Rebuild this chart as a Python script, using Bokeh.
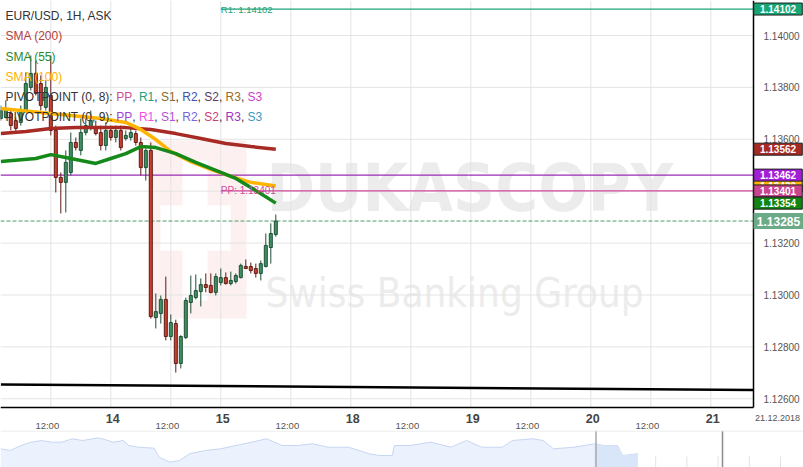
import numpy as np
from bokeh.plotting import figure
from bokeh.models import ColumnDataSource, Label, FixedTicker, Range1d
from bokeh.layouts import column
from bokeh.embed import file_html
from bokeh.resources import INLINE
from bokeh.core.properties import value

# ---------------- data ----------------
hours = list(range(56))
opens = [1.13680, 1.13684, 1.13699, 1.13672, 1.13665, 1.13711, 1.13800, 1.13854, 1.13815, 1.13723,
         1.13769, 1.13634, 1.13453, 1.13434, 1.13472, 1.13588, 1.13557, 1.13626, 1.13642, 1.13642,
         1.13626, 1.13576, 1.13634, 1.13607, 1.13634, 1.13603, 1.13607, 1.13622, 1.13588, 1.13491,
         1.13557, 1.12913, 1.12929, 1.12983, 1.12840, 1.12890, 1.12736, 1.12836, 1.12971, 1.12990,
         1.13013, 1.13040, 1.13037, 1.13010, 1.13048, 1.13067, 1.13044, 1.13052, 1.13067, 1.13110,
         1.13110, 1.13102, 1.13083, 1.13110, 1.13183, 1.13233]
highs = [1.13730, 1.13750, 1.13711, 1.13684, 1.13730, 1.13858, 1.13923, 1.13904, 1.13846, 1.13827,
         1.13923, 1.13653, 1.13472, 1.13557, 1.13626, 1.13607, 1.13680, 1.13692, 1.13711, 1.13672,
         1.13653, 1.13665, 1.13653, 1.13653, 1.13653, 1.13634, 1.13642, 1.13634, 1.13607, 1.13565,
         1.13588, 1.13006, 1.12998, 1.13071, 1.12925, 1.12905, 1.12845, 1.12990, 1.13075, 1.13079,
         1.13064, 1.13083, 1.13083, 1.13083, 1.13102, 1.13087, 1.13090, 1.13083, 1.13121, 1.13137,
         1.13125, 1.13121, 1.13133, 1.13237, 1.13276, 1.13310]
lows = [1.13672, 1.13680, 1.13634, 1.13626, 1.13653, 1.13703, 1.13788, 1.13769, 1.13711, 1.13711,
        1.13615, 1.13395, 1.13314, 1.13318, 1.13461, 1.13557, 1.13538, 1.13615, 1.13634, 1.13615,
        1.13557, 1.13557, 1.13595, 1.13588, 1.13557, 1.13595, 1.13595, 1.13576, 1.13461, 1.13441,
        1.12909, 1.12871, 1.12890, 1.12825, 1.12825, 1.12701, 1.12717, 1.12830, 1.12929, 1.12983,
        1.12956, 1.13010, 1.13006, 1.12998, 1.13037, 1.13040, 1.13037, 1.13044, 1.13064, 1.13102,
        1.13083, 1.13067, 1.13056, 1.13106, 1.13121, 1.13225]
closes = [1.13711, 1.13719, 1.13653, 1.13642, 1.13703, 1.13815, 1.13854, 1.13777, 1.13730, 1.13800,
          1.13634, 1.13453, 1.13434, 1.13511, 1.13588, 1.13568, 1.13626, 1.13653, 1.13672, 1.13622,
          1.13576, 1.13634, 1.13607, 1.13634, 1.13568, 1.13615, 1.13626, 1.13588, 1.13491, 1.13557,
          1.12917, 1.12936, 1.12983, 1.12840, 1.12894, 1.12736, 1.12840, 1.12979, 1.12998, 1.13017,
          1.13040, 1.13029, 1.13010, 1.13071, 1.13067, 1.13044, 1.13056, 1.13075, 1.13114, 1.13102,
          1.13094, 1.13083, 1.13121, 1.13191, 1.13237, 1.13285]

sma200_hours = [0, 5, 10, 15, 20, 25, 30, 35, 40, 45, 50, 55]
sma200 = [1.13622, 1.13630, 1.13642, 1.13645, 1.13645, 1.13645, 1.13638, 1.13622, 1.13603, 1.13584, 1.13572, 1.13562]
sma55_hours = [0, 7, 10, 13, 19, 22, 25, 28, 31, 35, 39, 43, 47, 51, 55]
sma55 = [1.13514, 1.13526, 1.13541, 1.13530, 1.13507, 1.13526, 1.13545, 1.13572, 1.13568, 1.13545,
         1.13511, 1.13480, 1.13449, 1.13403, 1.13354]
sma100_hours = [0, 10, 20, 25, 28, 31, 34, 38, 42, 46, 50, 55]
sma100 = [1.13719, 1.13699, 1.13680, 1.13665, 1.13638, 1.13599, 1.13553, 1.13514, 1.13484, 1.13457, 1.13434, 1.13420]

pp_daily = 1.13401      # PIVOTPOINT (0, 8) PP
r1_daily = 1.14102      # PIVOTPOINT (0, 8) R1
pivot_daily_start = 44  # 15 Dec 00:00
pp_weekly = 1.13462     # PIVOTPOINT (0, 9) PP
current_price = 1.13285
trend_hours = [0, 150.5]
trend_prices = [1.12655, 1.12634]

price_ticks = [1.126, 1.128, 1.130, 1.132, 1.134, 1.136, 1.138, 1.140]
price_labels = ["1.12600", "1.12800", "1.13000", "1.13200", "1.13400", "1.13600", "1.13800", "1.14000"]
noon_hours = [10, 34, 58, 82, 106, 130]
day_hours = [22, 44, 70, 94, 118, 142]
day_labels = ["14", "15", "18", "19", "20", "21"]
date_label = "21.12.2018"

nav_t = [0, 10, 20.5, 30.7, 41, 51, 61.4, 71.7, 82, 92, 97, 102, 112.6, 123, 128, 138, 153.6, 158.7, 169, 179,
         189, 204.8, 220, 235.5, 250.9, 266, 281.6, 297, 312, 327.7, 348, 368.7, 379, 391.7, 394, 409.6, 430,
         450.6, 466, 481.3, 501.8, 512, 532.5, 542.7, 553, 573.5, 583.7, 594, 604, 617, 622, 637.5]
nav_vals = [18.7, 17, 22, 25.3, 27, 25.3, 25.3, 28.7, 27, 28.7, 29.7, 28.7, 25.3, 27, 22, 20.3, 19.3, 10.3, 5.3, 7,
            13.7, 17, 18.7, 22, 25.3, 28.7, 22, 22, 23.7, 20.3, 20.3, 13.7, 12, 12, 22, 22, 25.3, 20.3, 27, 20.3,
            20.3, 27, 28.7, 27, 18.7, 20.3, 22, 23.7, 22, 22, 12, 13.7]
nav_window = [595.5, 722]

# ---------------- view / styles ----------------
FONT = "Liberation Sans"
COND = "'DejaVu Sans Condensed', 'Liberation Sans Narrow', 'Liberation Sans'"
UP_FILL, UP_LINE = "#3f8f63", "#1d4f35"
DN_FILL, DN_LINE = "#c8402f", "#5e1a12"

x_start, x_end = -0.06, 160.54     # whole canvas width (hours)
y_start, y_end = 1.124778, 1.141349  # whole canvas height (price)
axis_x = 150.54                    # right price axis position
axis_y = 1.125653                  # bottom time axis position
box_x = axis_x + 4.9               # centre of the value tags right of the axis

p = figure(width=803, height=430, x_range=Range1d(x_start, x_end), y_range=Range1d(y_start, y_end),
           y_axis_location="right", output_backend="svg", toolbar_location=None,
           min_border=0)
p.outline_line_color = None
p.background_fill_color = "white"
p.border_fill_color = "white"
p.grid.visible = False

# watermark (decoration), placed in canvas pixels
def ph(px):
    return x_start + px * (x_end - x_start) / 803.0

def pv(py):
    return y_end - py * (y_end - y_start) / 430.0

p.quad(left=[ph(148)], right=[ph(246)], top=[pv(140)], bottom=[pv(318)],
       fill_color="#fdf0f0", line_color=None, level="image")
p.quad(left=[ph(160), ph(182)], right=[ph(230), ph(207)], top=[pv(205), pv(160)], bottom=[pv(250), pv(300)],
       fill_color="white", line_color=None, level="image")
p.text(x=[ph(266)], y=[pv(188)], text=["DUKASCOPY"], text_font=value(COND),
       text_font_style="bold", text_font_size="65px", text_color="#ececec", text_baseline="middle", level="image")
p.text(x=[ph(265)], y=[pv(292)], text=["Swiss Banking Group"], text_font=value(COND),
       text_font_size="40px", text_color="#ececec", text_baseline="middle", level="image")

# grid lines (limited to the plotting area)
grid_hours = sorted(noon_hours + day_hours)
p.segment(x0=grid_hours, x1=grid_hours, y0=[axis_y] * len(grid_hours), y1=[y_end] * len(grid_hours),
          line_color="#e4e4e4", line_width=1, level="underlay")
p.segment(x0=[x_start] * len(price_ticks), x1=[axis_x] * len(price_ticks), y0=price_ticks, y1=price_ticks,
          line_color="#e4e4e4", line_width=1, level="underlay")

# axes (drawn at fixed positions inside the canvas)
ax = p.yaxis[0]
ax.fixed_location = axis_x
ax.bounds = (axis_y, y_end)
ax.ticker = FixedTicker(ticks=price_ticks)
ax.major_label_overrides = dict(zip(price_ticks, price_labels))
ax.axis_line_color = "black"
ax.axis_line_width = 1.5
ax.major_tick_line_color = None
ax.minor_tick_line_color = None
ax.major_label_standoff = 4
ax.major_label_text_font = FONT
ax.major_label_text_font_size = "10px"
ax.major_label_text_color = "#555555"

noon_label_pos = [h - 0.7 for h in noon_hours]
bx = p.xaxis[0]
bx.fixed_location = axis_y
bx.bounds = (x_start, axis_x)
bx.ticker = FixedTicker(ticks=noon_label_pos)
bx.major_label_overrides = {h: "12:00" for h in noon_label_pos}
bx.axis_line_color = "black"
bx.axis_line_width = 1.5
bx.major_tick_line_color = None
bx.minor_tick_line_color = None
bx.major_label_standoff = 6
bx.major_label_text_font = FONT
bx.major_label_text_font_size = "9.5px"
bx.major_label_text_color = "#555555"

# pivot / price lines
p.segment(x0=[x_start], x1=[axis_x], y0=[pp_weekly], y1=[pp_weekly], line_color="#9a2cb5", line_width=1.2)
p.segment(x0=[pivot_daily_start], x1=[axis_x], y0=[pp_daily], y1=[pp_daily], line_color="#d0479c", line_width=1.2)
p.segment(x0=[pivot_daily_start], x1=[axis_x], y0=[r1_daily], y1=[r1_daily], line_color="#1aa37a", line_width=1.2)
p.segment(x0=[x_start], x1=[axis_x], y0=[current_price], y1=[current_price], line_color="#4f9a6c",
          line_width=1, line_dash="4 2")
p.line(trend_hours, trend_prices, line_color="black", line_width=2.5)

# candles
up = [c >= o for o, c in zip(opens, closes)]
src = ColumnDataSource(dict(
    h=hours, hi=highs, lo=lows,
    top=[max(o, c) for o, c in zip(opens, closes)],
    bottom=[min(o, c) for o, c in zip(opens, closes)],
    fill=[UP_FILL if u else DN_FILL for u in up],
    line=[UP_LINE if u else DN_LINE for u in up],
))
p.segment(x0="h", x1="h", y0="hi", y1="lo", line_color="line", line_width=1, source=src)
p.vbar(x="h", width=0.6, top="top", bottom="bottom", fill_color="fill", line_color="line", line_width=1, source=src)

# moving averages
p.line(sma200_hours, sma200, line_color="#a82a25", line_width=3.5)
p.line(sma100_hours, sma100, line_color="#ffb400", line_width=3.5)
p.line(sma55_hours, sma55, line_color="#15891a", line_width=3.5)

# pivot labels on chart
p.add_layout(Label(x=pivot_daily_start, y=pp_daily, y_offset=0.5, text="PP: 1.13401", text_font=FONT,
                   text_font_size="10px", text_color="#cc4c9c", text_baseline="alphabetic"))
p.add_layout(Label(x=pivot_daily_start, y=r1_daily, y_offset=-0.5, text="R1: 1.14102", text_font=FONT,
                   text_font_size="9.5px", text_color="#1aa37a", text_baseline="alphabetic"))

# legend (top-left)
CW = {"P": .667, "I": .278, "V": .667, "O": .778, "T": .611, "N": .722, " ": .278, "(": .333, ")": .333,
      ",": .278, ":": .278, "R": .722, "S": .667}
def tw(s, size=12):
    return sum(CW.get(ch, 0.556) for ch in s) * size

legend_rows = [
    [("EUR/USD, 1H, ASK", "#333333")],
    [("SMA (200)", "#b5403a")],
    [("SMA (55)", "#2a8a2a")],
    [("SMA (100)", "#ffb300")],
    [("PIVOTPOINT (0, 8): ", "#333333"), ("PP", "#cc4c9c"), (", ", "#333333"), ("R1", "#1aa37a"), (", ", "#333333"),
     ("S1", "#8a6a2e"), (", ", "#333333"), ("R2", "#3b4fb0"), (", ", "#333333"), ("S2", "#5b3b66"), (", ", "#333333"),
     ("R3", "#9b6b2e"), (", ", "#333333"), ("S3", "#cc3fcc")],
    [("PIVOTPOINT (0, 9): ", "#333333"), ("PP", "#a43fd8"), (", ", "#333333"), ("R1", "#f04fe0"), (", ", "#333333"),
     ("S1", "#b44fd8"), (", ", "#333333"), ("R2", "#7a63e0"), (", ", "#333333"), ("S2", "#cc3d78"), (", ", "#333333"),
     ("R3", "#9a37c0"), (", ", "#333333"), ("S3", "#3b9ac0")],
]
for i, row in enumerate(legend_rows):
    xo = 5
    for txt, col in row:
        p.add_layout(Label(x=x_start, y=y_end, x_offset=xo, y_offset=-(15.7 + 20.2 * i), text=txt,
                           text_font=FONT, text_font_size="12px", text_color=col, text_baseline="middle"))
        xo += tw(txt)

# x day labels and date
for h, d in zip(day_hours, day_labels):
    p.add_layout(Label(x=h + 0.4, y=axis_y, y_offset=-10.5, text=d, text_align="center", text_baseline="middle",
                       text_font=FONT, text_font_style="bold", text_font_size="12.5px", text_color="#444444"))
p.add_layout(Label(x=axis_x, y=axis_y, x_offset=24, y_offset=-10.5, text=date_label, text_align="center",
                   text_baseline="middle", text_font=FONT, text_font_size="9px", text_color="#555555"))

# axis value tags (drawn above the axis labels, one after another)
tag_values = [sma100[-1], sma200[-1], pp_weekly, pp_daily, sma55[-1], r1_daily]
tag_colors = ["#ffb300", "#a52a22", "#a31fd6", "#c8448f", "#13840f", "#17a673"]
for v, col in zip(tag_values, tag_colors):
    p.rect(x=[box_x], y=[v], width=48.5, height=12, width_units="screen", height_units="screen",
           fill_color=col, line_color="#1e1e1e", line_width=1, level="overlay")
    p.text(x=[box_x], y=[v], text=[f"{v:.5f}"], text_align="center", text_baseline="middle",
           text_font=value(FONT), text_font_style="bold", text_font_size="10px", text_color="white", level="overlay")
p.rect(x=[box_x + 0.1], y=[current_price], width=50, height=16, width_units="screen", height_units="screen",
       fill_color="#6aaa86", line_color=None, level="overlay")
p.text(x=[box_x + 0.1], y=[current_price], text=[f"{current_price:.5f}"], text_align="center",
       text_baseline="middle", text_font=value(FONT), text_font_style="bold", text_font_size="12px",
       text_color="white", level="overlay")

# ---------------- navigator ----------------
nav = figure(width=803, height=37, x_range=Range1d(0, 803), y_range=Range1d(0, 37),
             output_backend="svg", toolbar_location=None, min_border=0)
nav.axis.visible = False
nav.grid.visible = False
nav.outline_line_color = None
nav.background_fill_color = "white"
nav.border_fill_color = "white"
tick_x = list(np.arange(31.2, 803, 31.2))
nav.segment(x0=tick_x, x1=tick_x, y0=[0] * len(tick_x), y1=[11] * len(tick_x), line_color="#e2e2e2", line_width=1)
nav.varea(x=nav_t, y1=0, y2=nav_vals, fill_color="#ecf2fd")
nav.line(nav_t, nav_vals, line_color="#c6d5f1", line_width=1)
sel = [i for i, t in enumerate(nav_t) if t >= 594]
nav.varea(x=[nav_t[i] for i in sel], y1=0, y2=[nav_vals[i] for i in sel], fill_color="#d9e5f9")
nav.segment(x0=nav_window, x1=nav_window, y0=[0, 0], y1=[37, 37], line_color=["#a8a8a8", "#8c8c8c"], line_width=1.5)
nav.segment(x0=[0], x1=[803], y0=[36.5], y1=[36.5], line_color="#e6e6e6", line_width=1)

layout = column(p, nav, spacing=0)
open("out.html", "w").write(file_html(layout, INLINE))
